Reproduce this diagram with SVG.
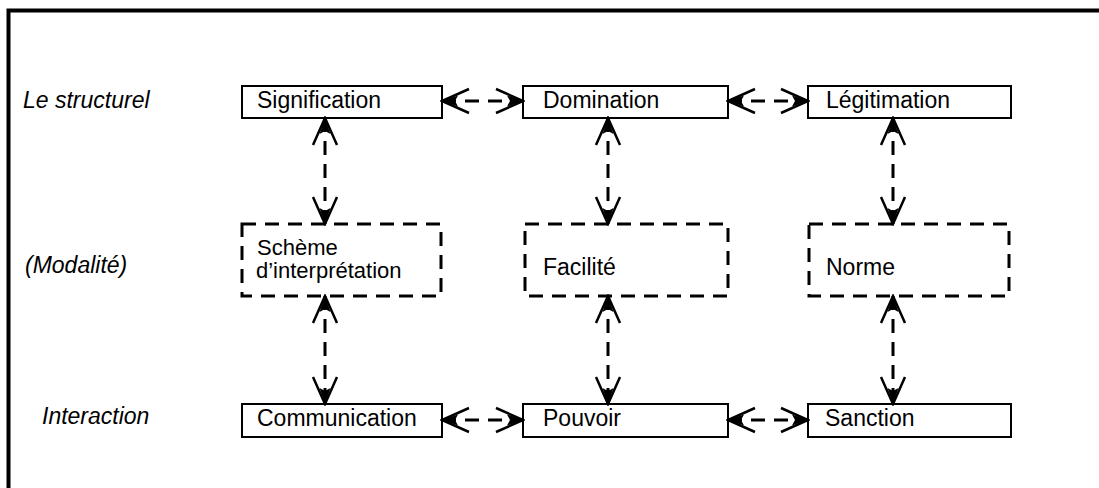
<svg xmlns="http://www.w3.org/2000/svg" width="1099" height="488" viewBox="0 0 1099 488">
<style>
text{font-family:"Liberation Sans",Arial,sans-serif;font-size:23px;fill:#000}
.lab{font-style:italic}
.sm{font-size:22px}
.box{fill:#fff;stroke:#000;stroke-width:2}
.dbox{fill:none;stroke:#000;stroke-width:3;stroke-dasharray:14 9}
.conn{fill:none;stroke:#000;stroke-width:3;stroke-dasharray:14 9}
</style>
<defs>
<marker id="ah" markerUnits="userSpaceOnUse" markerWidth="30" markerHeight="28" viewBox="0 0 30 28" refX="28" refY="14" orient="auto-start-reverse">
<path d="M1,2 L28,14 L1,26" fill="none" stroke="#000" stroke-width="2.5"/>
<path d="M28,14 L12,8.5 L15,14 L12,19.5 Z" fill="#000"/>
</marker>
</defs>
<rect width="1099" height="488" fill="#fff"/>
<path d="M8.5,488 V10.5 H1099" fill="none" stroke="#000" stroke-width="4"/>

<g id="labels">
<text class="lab" x="23" y="108">Le structurel</text>
<text class="lab" x="25" y="273">(Modalité)</text>
<text class="lab" x="42" y="424">Interaction</text>
</g>

<g id="signification"><rect class="box" x="242" y="86" width="200" height="32"/><text x="257" y="108">Signification</text></g>
<g id="domination"><rect class="box" x="523" y="86" width="205" height="32"/><text x="543" y="108">Domination</text></g>
<g id="legitimation"><rect class="box" x="808" y="86" width="203" height="32"/><text x="826" y="108">Légitimation</text></g>

<g id="scheme"><rect class="dbox" x="242" y="224" width="199" height="72"/><text class="sm" x="257" y="255">Schème</text><text class="sm" x="256" y="278">d’interprétation</text></g>
<g id="facilite"><rect class="dbox" x="525" y="224" width="203" height="72"/><text x="543" y="275">Facilité</text></g>
<g id="norme"><rect class="dbox" x="809" y="224" width="200" height="72"/><text x="826" y="275">Norme</text></g>

<g id="communication"><rect class="box" x="242" y="404" width="200" height="33"/><text x="257" y="426">Communication</text></g>
<g id="pouvoir"><rect class="box" x="523" y="404" width="205" height="33"/><text x="543" y="426">Pouvoir</text></g>
<g id="sanction"><rect class="box" x="808" y="404" width="203" height="33"/><text x="825" y="426">Sanction</text></g>

<g id="connectors">
<line class="conn" x1="442" y1="101" x2="523" y2="101" marker-start="url(#ah)" marker-end="url(#ah)"/>
<line class="conn" x1="728" y1="101" x2="808" y2="101" marker-start="url(#ah)" marker-end="url(#ah)"/>
<line class="conn" x1="442" y1="420" x2="523" y2="420" marker-start="url(#ah)" marker-end="url(#ah)"/>
<line class="conn" x1="728" y1="420" x2="808" y2="420" marker-start="url(#ah)" marker-end="url(#ah)"/>
<line class="conn" x1="325" y1="118" x2="325" y2="224" marker-start="url(#ah)" marker-end="url(#ah)"/>
<line class="conn" x1="608" y1="118" x2="608" y2="224" marker-start="url(#ah)" marker-end="url(#ah)"/>
<line class="conn" x1="893" y1="118" x2="893" y2="224" marker-start="url(#ah)" marker-end="url(#ah)"/>
<line class="conn" x1="325" y1="296" x2="325" y2="404" marker-start="url(#ah)" marker-end="url(#ah)"/>
<line class="conn" x1="608" y1="296" x2="608" y2="404" marker-start="url(#ah)" marker-end="url(#ah)"/>
<line class="conn" x1="893" y1="296" x2="893" y2="404" marker-start="url(#ah)" marker-end="url(#ah)"/>
</g>
</svg>
